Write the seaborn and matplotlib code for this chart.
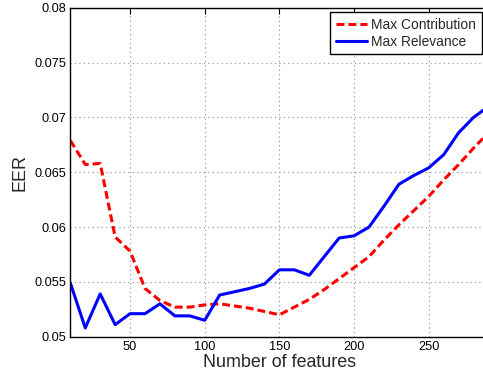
import numpy as np
import pandas as pd
import matplotlib
matplotlib.use('Agg')
import matplotlib.pyplot as plt
import seaborn as sns
from matplotlib.ticker import FuncFormatter

n_features = [10, 20, 30, 40, 50, 60, 70, 80, 90, 100, 110, 120, 130, 140, 150,
              160, 170, 180, 190, 200, 210, 220, 230, 240, 250, 260, 270, 280, 290]
max_contribution = [0.0679, 0.0657, 0.0658, 0.0591, 0.0578, 0.0544, 0.0533, 0.0527, 0.0527, 0.0529,
                    0.0530, 0.0528, 0.0526, 0.0523, 0.0520, 0.0527, 0.0534, 0.0543, 0.0553, 0.0563,
                    0.0573, 0.0588, 0.0602, 0.0615, 0.0628, 0.0643, 0.0657, 0.0672, 0.0686]
max_relevance = [0.0549, 0.0508, 0.0539, 0.0511, 0.0521, 0.0521, 0.0530, 0.0519, 0.0519, 0.0515,
                 0.0538, 0.0541, 0.0544, 0.0548, 0.0561, 0.0561, 0.0556, 0.0573, 0.0590, 0.0592,
                 0.0600, 0.0619, 0.0639, 0.0647, 0.0654, 0.0666, 0.0686, 0.0700, 0.0710]
x_ticks = [50, 100, 150, 200, 250]
y_ticks = [0.05, 0.055, 0.06, 0.065, 0.07, 0.075, 0.08]

sns.set_style('white')
plt.rcParams['font.family'] = ['Liberation Sans', 'DejaVu Sans']

df = pd.DataFrame({'n': n_features, 'contrib': max_contribution, 'relev': max_relevance})

fig = plt.figure(figsize = (4.83, 3.76), dpi = 100)
ax = fig.add_axes([0.1456, 0.1045, 0.8658, 0.875])

sns.lineplot(data = df, x = 'n', y = 'contrib', ax = ax, color = (1, 0, 0), linewidth = 2.2,
             label = 'Max Contribution')
ax.lines[-1].set_dashes((2.6, 1.3))
sns.lineplot(data = df, x = 'n', y = 'relev', ax = ax, color = (0, 0, 1), linewidth = 2.2,
             label = 'Max Relevance')

ax.set_xlim(10, 290)
ax.set_ylim(0.05, 0.08)
ax.set_xticks(x_ticks)
ax.set_yticks(y_ticks)
ax.yaxis.set_major_formatter(FuncFormatter(lambda v, p: '%g' % v))
ax.tick_params(direction = 'in', length = 4, width = 0.8, labelsize = 9.2, top = True, right = True,
               colors = 'black', pad = 3)
ax.grid(True, linestyle = (0, (1, 3)), color = '#8a8a8a', linewidth = 0.8)
for s in ax.spines.values():
    s.set_color('black')
    s.set_linewidth(1.0)

ax.set_xlabel('Number of features', fontsize = 12.9, labelpad = 1)
ax.set_ylabel('EER', fontsize = 12.9, labelpad = 4)

leg = ax.legend(loc = 'upper right', bbox_to_anchor = (0.9973, 0.9673), bbox_transform = fig.transFigure,
                fontsize = 9.9, fancybox = False, framealpha = 1, edgecolor = 'black',
                handlelength = 2.3, handletextpad = 0.3, labelspacing = 0.2, borderpad = 0.4,
                borderaxespad = 0)
leg.get_frame().set_linewidth(1.0)

fig.savefig('out.png', dpi = 100)
